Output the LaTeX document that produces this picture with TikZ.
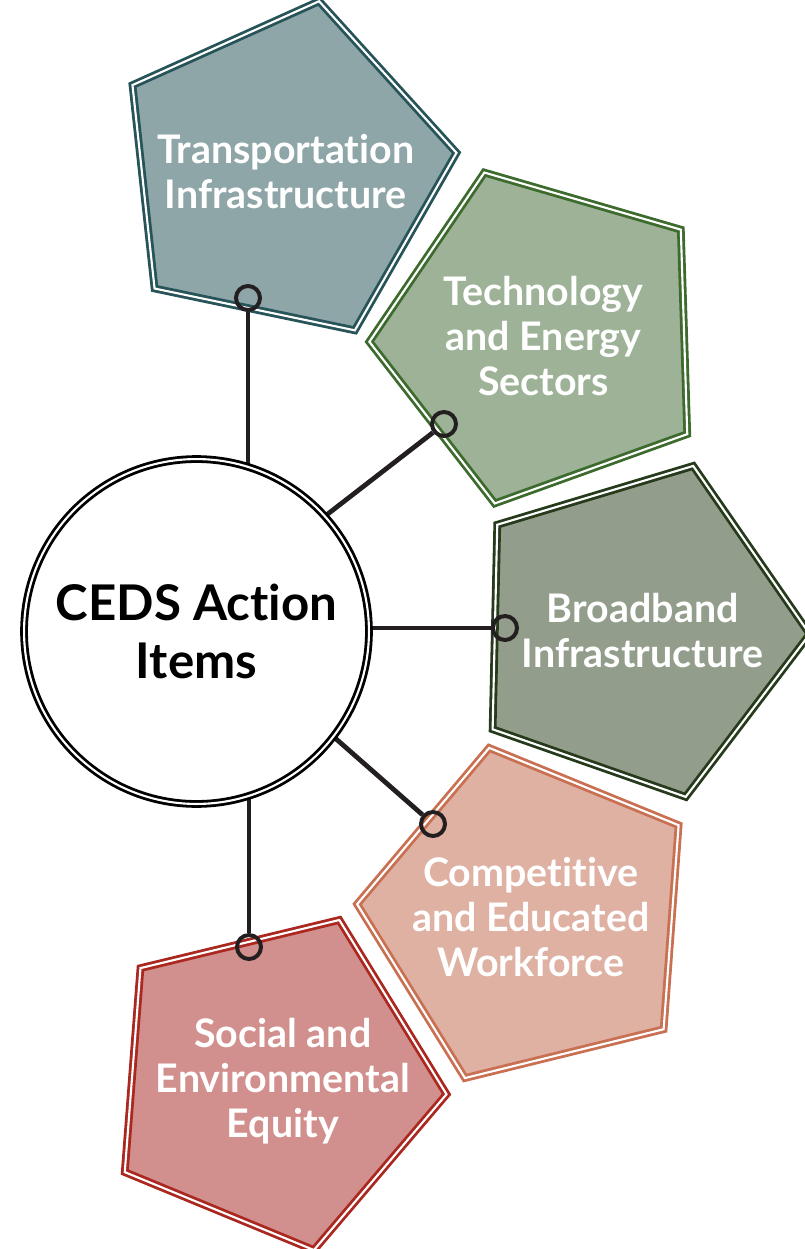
\documentclass[tikz,border=0pt]{standalone}
\usepackage{fontspec}
\setmainfont{Lato}[Ligatures=CommonOff]
\usetikzlibrary{shapes.geometric,backgrounds}

\definecolor{ink}{HTML}{231F20}
\definecolor{transfill}{HTML}{8EA6A7}
\definecolor{transline}{HTML}{265458}
\definecolor{techfill}{HTML}{9DB296}
\definecolor{techline}{HTML}{3D6B2D}
\definecolor{broadfill}{HTML}{939D8B}
\definecolor{broadline}{HTML}{263A1C}
\definecolor{workfill}{HTML}{DEB1A3}
\definecolor{workline}{HTML}{C97052}
\definecolor{equityfill}{HTML}{D1908D}
\definecolor{equityline}{HTML}{AB2820}

\begin{document}
\begin{tikzpicture}[x=0.025cm, y=-0.025cm,
  item/.style={regular polygon, regular polygon sides=5, minimum size=8.7cm, inner sep=0pt,
    line width=2pt, double=white, double distance=1.5pt},
  itemtext/.style={text=white, align=center, inner sep=0pt,
    font=\fontsize{28}{32}\selectfont\bfseries},
  hubnode/.style={circle, minimum size=8.62cm, inner sep=0pt, draw=black, fill=white,
    line width=2pt, double=white, double distance=1.5pt, align=center,
    font=\fontsize{35}{41}\selectfont\bfseries},
  ring/.style={circle, draw=ink, line width=2.8pt, minimum size=0.6cm, inner sep=0pt},
  link/.style={draw=ink, line width=3.4pt}]
\useasboundingbox (0,0) rectangle (804,1249);

\node[hubnode] (ceds) at (196.5,631.5) {CEDS Action\\Items};

\node[item, fill=transfill, draw=transline, shape border rotate=-11.8,
  label={[itemtext, xshift=1.5pt]center:Transportation\\Infrastructure}] (trans) at (283.5,171.6) {};
\node[item, fill=techfill, draw=techline, shape border rotate=19.8,
  label={[itemtext]center:Technology\\and Energy\\Sectors}] (tech) at (543.3,336.3) {};
\node[item, fill=broadfill, draw=broadline, shape border rotate=-19.3,
  label={[itemtext, xshift=5pt]center:Broadband\\Infrastructure}] (broad) at (635.7,630.2) {};
\node[item, fill=workfill, draw=workline, shape border rotate=13.8,
  label={[itemtext]center:Competitive\\and Educated\\Workforce}] (work) at (530.7,916.9) {};
\node[item, fill=equityfill, draw=equityline, shape border rotate=-22.4,
  label={[itemtext, xshift=7pt]center:Social and\\Environmental\\Equity}] (equity) at (273,1080.9) {};

\node[ring] (r1) at (248,298) {};
\node[ring] (r2) at (444,424) {};
\node[ring] (r3) at (505,628) {};
\node[ring] (r4) at (433,824) {};
\node[ring] (r5) at (249,947) {};
\coordinate (hub) at (196,616);

\begin{scope}[on background layer]
\draw[link] (r1) -- (r1 |- hub);
\draw[link] (r2) -- (hub);
\draw[link] (r3) -- (r3 -| hub);
\draw[link] (r4) -- (hub);
\draw[link] (r5) -- (r5 |- hub);
\end{scope}

\end{tikzpicture}
\end{document}
